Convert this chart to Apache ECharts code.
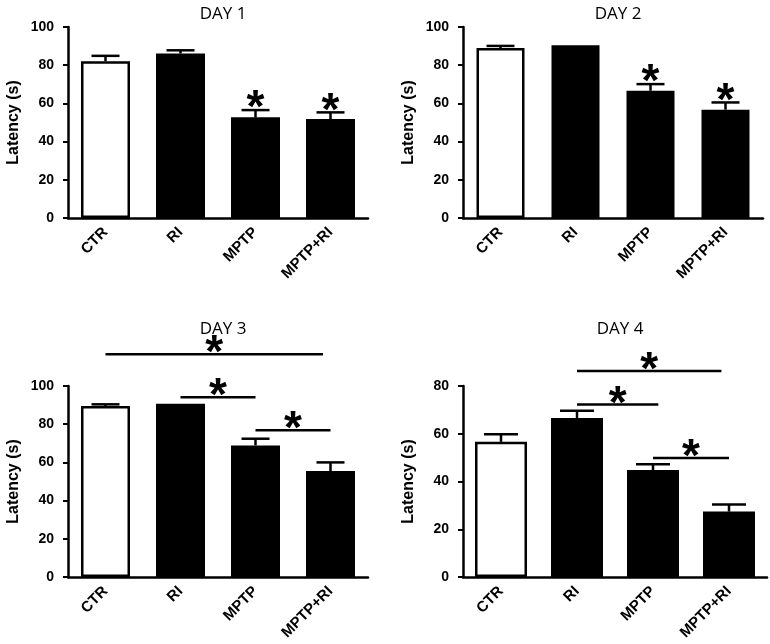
<!DOCTYPE html>
<html>
<head>
<meta charset="utf-8">
<script src="https://cdn.jsdelivr.net/npm/echarts@6/dist/echarts.min.js"></script>
<style>html,body{margin:0;padding:0;background:#fff}#c{width:770px;height:644px}</style>
</head>
<body>
<div id="c"></div>
<script>
// ---- data ----
const categories = ['CTR', 'RI', 'MPTP', 'MPTP+RI'];
const titles = ['DAY 1', 'DAY 2', 'DAY 3', 'DAY 4'];
const yMax = [100, 100, 100, 80];
const day1Mean = [82.1, 86.1, 52.7, 51.8];
const day1Sem  = [2.8, 1.7, 3.8, 3.5];
const day2Mean = [89.0, 90.4, 66.6, 56.7];
const day2Sem  = [1.1, 0, 3.5, 3.8];
const day3Mean = [89.5, 90.7, 68.9, 55.5];
const day3Sem  = [0.9, 0, 3.5, 4.5];
const day4Mean = [56.6, 66.6, 44.8, 27.4];
const day4Sem  = [3.2, 3.0, 2.4, 3.0];
// asterisks directly above error bars (category index)
const day1Stars = [2, 3];
const day2Stars = [2, 3];
// comparison lines: [from category, to category, height (s)]
const day3Lines = [[0, 2.9, 116.6], [1, 2, 94.1], [2, 3, 76.8]];
const day4Lines = [[1, 2.9, 86.3], [1, 2.07, 72.3], [2, 3, 49.8]];

const means = [day1Mean, day2Mean, day3Mean, day4Mean];
const sems = [day1Sem, day2Sem, day3Sem, day4Sem];
const stars = [day1Stars, day2Stars, [], []];
const lines = [[], [], day3Lines, day4Lines];

// ---- layout ----
const grids = [
  {left: 68, top: 27, width: 300, height: 191},
  {left: 463, top: 27, width: 300, height: 191},
  {left: 68, top: 386, width: 300, height: 191},
  {left: 463, top: 386, width: 304, height: 191}
];
const barWidths = [49, 48, 49, 52];
const capHalf = [14, 14, 14, 17];
const titleTops = [1, 1, 316, 316];
const AX = 'Liberation Sans, Arial, sans-serif';
const STAR_FS = 46;

const option = {
  backgroundColor: '#fff',
  animation: false,
  title: grids.map((g, i) => ({
    text: titles[i],
    left: g.left + g.width / 2,
    top: titleTops[i],
    textAlign: 'center',
    textStyle: {fontFamily: 'Open Sans', fontWeight: 'normal', fontSize: 17, color: '#000'}
  })),
  grid: grids,
  xAxis: grids.map((g, i) => ({
    type: 'category', gridIndex: i, data: categories,
    axisLine: {lineStyle: {color: '#000', width: 2.5}},
    axisTick: {alignWithLabel: true, length: 5, lineStyle: {color: '#000', width: 2}},
    axisLabel: {rotate: 45, margin: 12, color: '#000', fontFamily: AX, fontWeight: 'bold', fontSize: 15}
  })),
  yAxis: grids.map((g, i) => ({
    type: 'value', gridIndex: i, min: 0, max: yMax[i], interval: 20,
    name: 'Latency (s)', nameLocation: 'middle', nameGap: 46,
    nameTextStyle: {color: '#000', fontFamily: AX, fontWeight: 'bold', fontSize: 16},
    splitLine: {show: false},
    axisLine: {show: true, lineStyle: {color: '#000', width: 2.5}},
    axisTick: {show: true, length: 5, lineStyle: {color: '#000', width: 2}},
    axisLabel: {margin: 14, color: '#000', fontFamily: AX, fontWeight: 'bold', fontSize: 14}
  })),
  series: []
};

function starText(x, y) {
  return {
    type: 'text',
    style: {
      text: '*', x: x, y: y + STAR_FS * 0.25,
      textAlign: 'center', textVerticalAlign: 'middle',
      font: 'bold ' + STAR_FS + 'px ' + AX, fill: '#000'
    }
  };
}

for (let i = 0; i < 4; i++) {
  // bars
  option.series.push({
    type: 'bar', xAxisIndex: i, yAxisIndex: i, barWidth: barWidths[i],
    data: means[i].map((v, k) => ({
      value: v,
      itemStyle: {color: k === 0 ? '#fff' : '#000', borderColor: '#000', borderWidth: 2.5}
    })),
    z: 2
  });
  // error bars + stars above them
  const cap = capHalf[i];
  const st = stars[i];
  option.series.push({
    type: 'custom', xAxisIndex: i, yAxisIndex: i, clip: false, z: 3,
    data: means[i].map((v, k) => [k, v, sems[i][k]]),
    renderItem: function (params, api) {
      const k = api.value(0), m = api.value(1), s = api.value(2);
      const p0 = api.coord([k, m]);
      const p1 = api.coord([k, m + s]);
      const children = [];
      if (s > 0) {
        children.push({type: 'line', shape: {x1: p0[0], y1: p0[1], x2: p1[0], y2: p1[1]},
          style: {stroke: '#000', lineWidth: 2.5}});
        children.push({type: 'line', shape: {x1: p1[0] - cap, y1: p1[1], x2: p1[0] + cap, y2: p1[1]},
          style: {stroke: '#000', lineWidth: 2.5}});
      }
      if (st.indexOf(k) >= 0) children.push(starText(p1[0], p1[1] - 12));
      return {type: 'group', children: children};
    }
  });
  // comparison lines with stars
  if (lines[i].length) {
    option.series.push({
      type: 'custom', xAxisIndex: i, yAxisIndex: i, clip: false, z: 3,
      data: lines[i],
      renderItem: function (params, api) {
        const a = api.value(0), b = api.value(1), h = api.value(2);
        const c0 = api.coord([0, h]), c1 = api.coord([1, h]);
        const step = c1[0] - c0[0];
        const xa = c0[0] + a * step, xb = c0[0] + b * step, y = c0[1];
        return {type: 'group', children: [
          {type: 'line', shape: {x1: xa, y1: y, x2: xb, y2: y}, style: {stroke: '#000', lineWidth: 2.5}},
          starText((xa + xb) / 2, y - 11)
        ]};
      }
    });
  }
}

const chart = echarts.init(document.getElementById('c'), null, {renderer: 'canvas'});
chart.setOption(option);
</script>
</body>
</html>
